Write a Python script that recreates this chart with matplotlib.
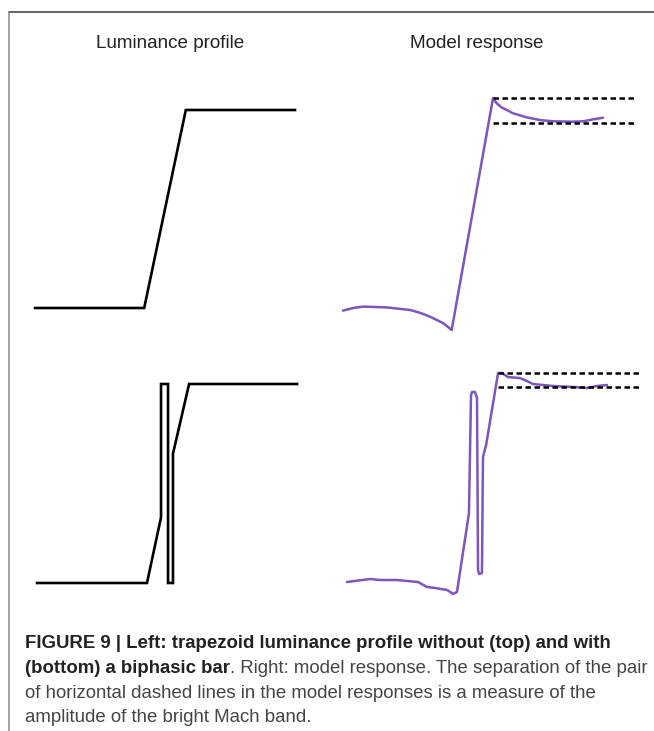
import matplotlib
matplotlib.use('Agg')
import matplotlib.pyplot as plt
from matplotlib.lines import Line2D

W, H = 654, 731

# luminance profiles (position 0..100, luminance 0..1)
lum_top_x = [0, 42, 58, 100]
lum_top_y = [0, 0, 1, 1]
lum_bot_x = [0, 42.3, 47.7, 47.7, 50.4, 50.4, 52.3, 52.3, 58.5, 100]
lum_bot_y = [0, 0, 0.33, 1, 1, 0, 0, 0.65, 1, 1]

# model responses
resp_top_x = [0, 4.0, 7.8, 16.8, 25.8, 29.6, 33.5, 38.6, 41.8, 57.7, 59.1,
              61.0, 65.5, 70.6, 75.8, 80.9, 88.6, 92.4, 96.3, 100]
resp_top_y = [-0.013, 0.0, 0.007, 0.003, -0.01, -0.024, -0.044, -0.077,
              -0.111, 1.06, 1.034, 1.013, 0.983, 0.963, 0.949, 0.943, 0.941,
              0.943, 0.953, 0.961]
resp_bot_x = [0, 8.8, 12.7, 19.2, 27.3, 30.8, 33.8, 38.5, 40.8, 42.3,
              46.9, 47.7, 48.1, 49.2, 50.0, 50.4, 50.8, 51.9, 52.3, 53.5,
              58.1, 59.6, 61.9, 66.5, 69.2, 71.5, 79.2, 86.9, 92.3, 96.2, 100]
resp_bot_y = [0.005, 0.02, 0.015, 0.015, 0.005, -0.02, -0.025, -0.035,
              -0.055, -0.045, 0.35, 0.945, 0.96, 0.96, 0.93, 0.065, 0.045,
              0.05, 0.633, 0.693, 1.055, 1.055, 1.035, 1.03, 1.015, 1.0,
              0.99, 0.985, 0.98, 0.99, 0.995]

# Mach band markers: (peak, plateau, x start, x end)
mach_top = (1.06, 0.934, 57.7, 112.3)
mach_bot = (1.055, 0.985, 58.1, 113.5)

titles = ['Luminance profile', 'Model response']
caption_bold_1 = 'FIGURE 9 | Left: trapezoid luminance profile without (top) and with'
caption_bold_2 = '(bottom) a biphasic bar'
caption_rest_2 = '. Right: model response. The separation of the pair'
caption_3 = 'of horizontal dashed lines in the model responses is a measure of the'
caption_4 = 'amplitude of the bright Mach band.'

PURPLE = '#7d55bd'
XLIM = (-15, 120)
YLIM = (-0.3, 1.3)


def panel(fig, px0, py0, px1, py1):
    '''axes so that data (0,0) sits at pixel (px0,py0) and (100,1) at (px1,py1)'''
    sx = (px1 - px0) / 100
    sy = py0 - py1
    left = px0 + XLIM[0] * sx
    right = px0 + XLIM[1] * sx
    bottom = py0 - YLIM[0] * sy
    top = py0 - YLIM[1] * sy
    ax = fig.add_axes([left / W, 1 - bottom / H, (right - left) / W,
                       (bottom - top) / H])
    ax.set_xlim(*XLIM)
    ax.set_ylim(*YLIM)
    ax.axis('off')
    return ax


fig = plt.figure(figsize=(W / 100, H / 100), dpi=100)

# frame lines
fig.add_artist(Line2D([9 / W, 1], [1 - 12 / H, 1 - 12 / H], color='#3a3a3a', lw=1.1))
fig.add_artist(Line2D([9 / W, 9 / W], [0, 1 - 12 / H], color='#8a8a8a', lw=1.1))

ax = panel(fig, 35, 308, 295, 110)
ax.plot(lum_top_x, lum_top_y, color='black', lw=1.9, solid_joinstyle='miter')
ax = panel(fig, 37, 583, 297, 384)
ax.plot(lum_bot_x, lum_bot_y, color='black', lw=1.9, solid_joinstyle='miter')

for (px0, py0, px1, py1), rx, ry, mach in [
        ((343, 308, 603, 110), resp_top_x, resp_top_y, mach_top),
        ((347, 583, 607, 384), resp_bot_x, resp_bot_y, mach_bot)]:
    ax = panel(fig, px0, py0, px1, py1)
    ax.plot(rx, ry, color=PURPLE, lw=1.8, solid_joinstyle='round',
            solid_capstyle='round')
    ax.hlines(mach[:2], mach[2], mach[3], colors='black', lw=1.8,
              linestyles=(0, (2.2, 1.4)))

tfont = dict(family=['Liberation Sans', 'DejaVu Sans'], fontsize=13.6, color='#222222')
fig.text(170 / W, 1 - 48 / H, titles[0], ha='center', va='baseline', **tfont)
fig.text(477 / W, 1 - 48 / H, titles[1], ha='center', va='baseline', **tfont)

cfont = dict(family=['Liberation Sans Narrow', 'Liberation Sans', 'DejaVu Sans'],
             fontsize=13.4)
x0 = 25 / W
base = [648, 673, 698, 722]
fig.text(x0, 1 - base[0] / H, caption_bold_1, weight='bold', color='#222222',
         va='baseline', **cfont)
tb = fig.text(x0, 1 - base[1] / H, caption_bold_2, weight='bold', color='#222222',
              va='baseline', **cfont)
renderer = fig.canvas.get_renderer()
bb = tb.get_window_extent(renderer)
fig.text(bb.x1 / fig.bbox.width, 1 - base[1] / H, caption_rest_2, color='#444444',
         va='baseline', **cfont)
fig.text(x0, 1 - base[2] / H, caption_3, color='#444444', va='baseline', **cfont)
fig.text(x0, 1 - base[3] / H, caption_4, color='#444444', va='baseline', **cfont)

fig.savefig('out.png', dpi=100)
